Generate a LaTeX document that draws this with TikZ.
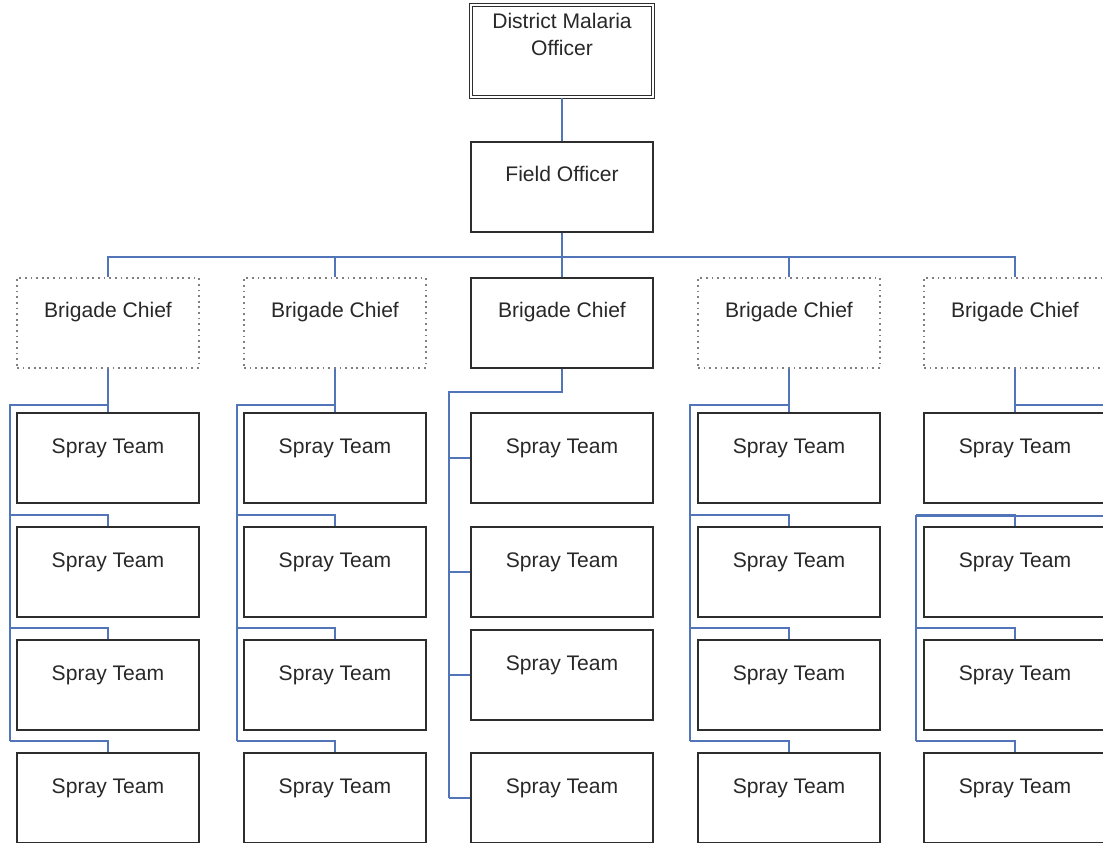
\documentclass[tikz,border=0pt]{standalone}
\usepackage{fontspec}
\setmainfont{Liberation Sans}
\usepackage{tikz}
\usetikzlibrary{calc}
\definecolor{linkblue}{RGB}{82,116,184}
\definecolor{boxgray}{RGB}{45,45,45}
\definecolor{textgray}{RGB}{40,40,40}
\tikzstyle{unit}=[draw=boxgray, line width=1pt, minimum width=36.4mm, minimum height=18mm, inner sep=0pt, text height=8mm, text depth=10mm, text=textgray, font=\fontsize{12}{14}\selectfont]
\tikzstyle{chief}=[unit, draw=gray, dash pattern=on 1pt off 2.2pt]
\tikzstyle{link}=[draw=linkblue, line width=1.1pt]

\begin{document}
\begin{tikzpicture}[x=0.2mm, y=-0.2mm]
\useasboundingbox (0,0) rectangle (1103,843);
\clip (0,0) rectangle (1103,843);
\node[unit, double=white, double distance=1.5pt, line width=0.6pt, align=center, minimum height=18.4mm, text height=10.2mm, text depth=8.2mm, font=\fontsize{12}{15.4}\selectfont] (dmo) at (562,51) {District Malaria\\Officer};
\node[unit] (fo) at (562,187) {Field Officer};
\foreach \c/\x/\yy/\s in {1/108/685/chief, 2/335/685/chief, 3/562/675/unit, 4/789/685/chief, 5/1015/685/chief} {
 \node[style=\s] (bc\c) at (\x,323) {Brigade Chief};
 \foreach \r/\y in {1/458, 2/572, 3/\yy, 4/798}
  \node[unit] (st\c-\r) at (\x,\y) {Spray Team};
}
\draw[link] (dmo.south) -- (fo.north);
\draw[link] (fo.south) -- ++(0,24) coordinate (bus);
\foreach \c in {1,...,5}
 \draw[link] (bc\c.north) |- (bus);
\foreach \c/\x in {1/10, 2/237, 4/690} {
 \coordinate (spine\c) at (\x,405);
 \draw[link] (bc\c.south) -- (st\c-1.north);
 \draw[link] (bc\c.south) |- (spine\c) -- ([yshift=2.2mm]spine\c |- st\c-4.north);
 \foreach \r in {2,3,4}
  \draw[link] (st\c-\r.north) |- ([yshift=2.2mm]spine\c |- st\c-\r.north);
}
\coordinate (spine3) at (449,392);
\draw[link] (bc3.south) |- (spine3) -- (spine3 |- st3-4.west);
\foreach \r in {1,...,4}
 \draw[link] (st3-\r.west) -- (spine3 |- st3-\r.west);
\coordinate (spine5) at (916,516);
\coordinate (edge5) at (1115,405);
\draw[link] (bc5.south) -- (st5-1.north);
\draw[link] (bc5.south) |- (edge5) |- (spine5) -- ([yshift=2.2mm]spine5 |- st5-4.north);
\foreach \r in {2,3,4}
 \draw[link] (st5-\r.north) |- ([yshift=2.2mm]spine5 |- st5-\r.north);
\end{tikzpicture}
\end{document}
